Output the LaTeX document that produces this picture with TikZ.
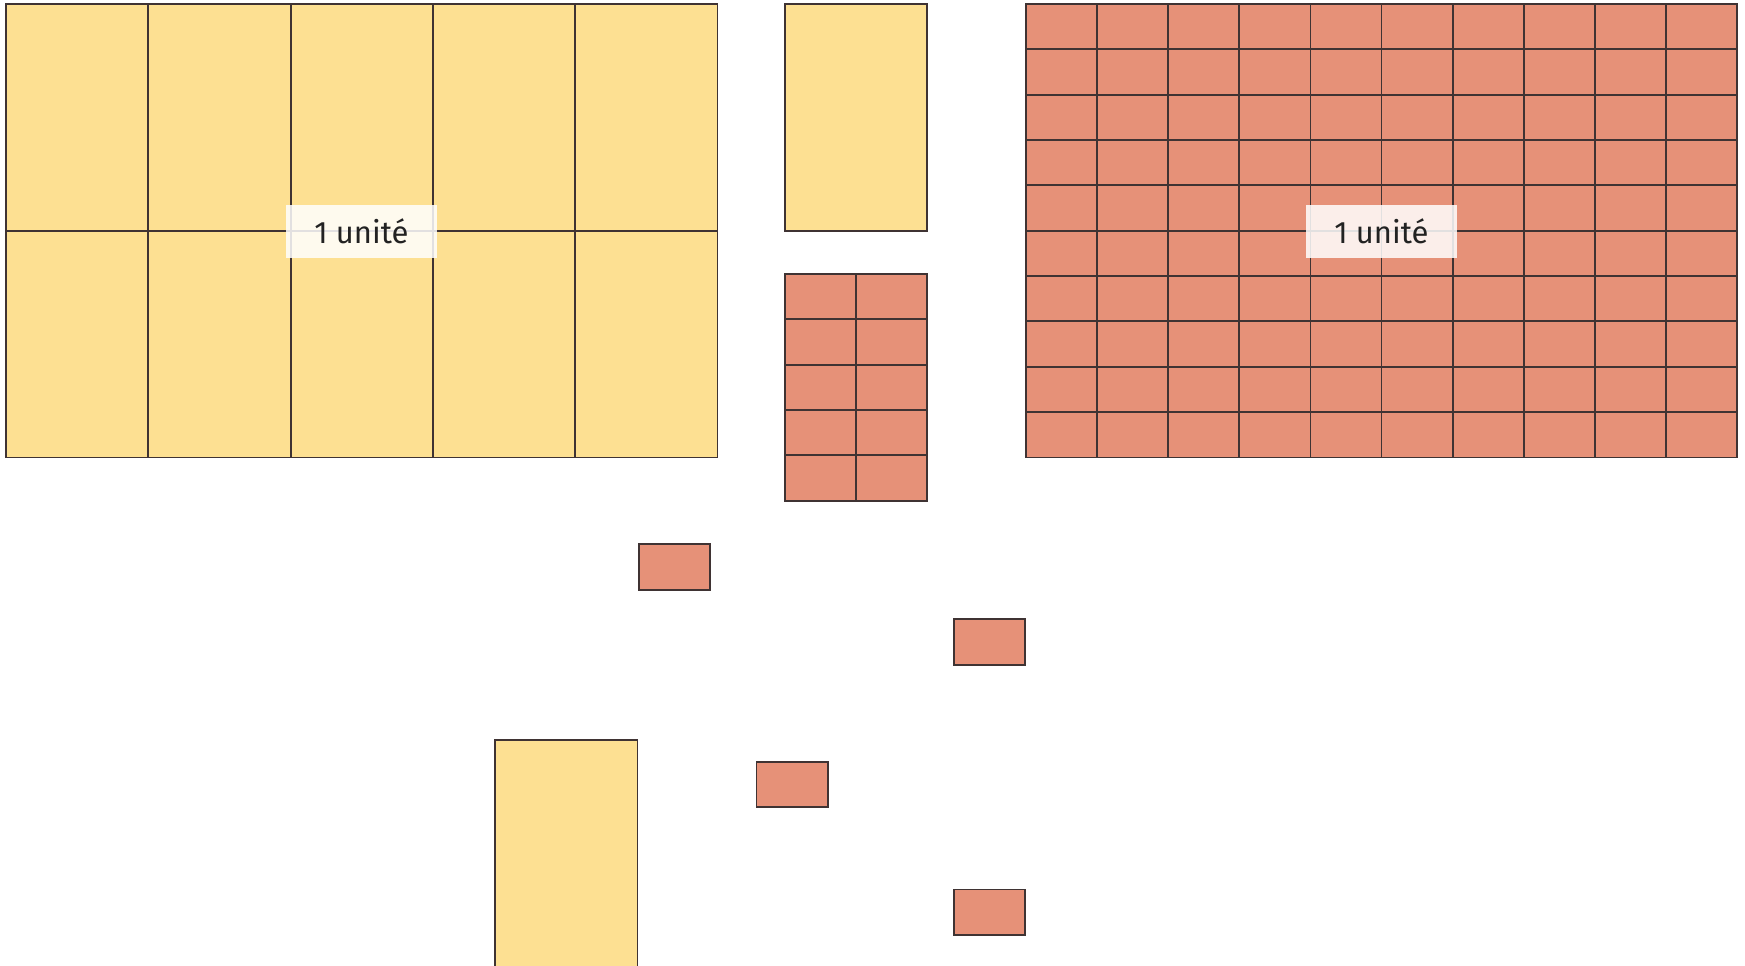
\documentclass[tikz,border=0pt]{standalone}
\usepackage{fontspec}
\setmainfont{Fira Sans}
\definecolor{yelfill}{HTML}{FDE092}
\definecolor{redfill}{HTML}{E69178}
\definecolor{edgecol}{HTML}{3F3333}
\definecolor{txtcol}{HTML}{222222}
\begin{document}
\begin{tikzpicture}[x=1pt,y=-1pt,
  ycell/.style={fill=yelfill,draw=edgecol,line width=1.8pt},
  rcell/.style={fill=redfill,draw=edgecol,line width=1.8pt},
  unitlabel/.style={fill=white,fill opacity=0.85,text opacity=1,text=txtcol,
    minimum width=150.7pt,minimum height=52.7pt,inner sep=0pt,
    font=\fontsize{31}{36}\selectfont}]
\useasboundingbox (0,0) rectangle (1745,966);
% big yellow block 5 x 2
\foreach \i in {0,...,4}
  \foreach \j in {0,1}
    \draw[ycell] ({6+\i*142.3},{4+\j*226.7}) rectangle +(142.3,226.7);
% big red block 10 x 10
\foreach \i in {0,...,9}
  \foreach \j in {0,...,9}
    \draw[rcell] ({1026+\i*71.1},{4+\j*45.34}) rectangle +(71.1,45.34);
% middle yellow
\draw[ycell] (785,4) rectangle +(142.3,226.7);
% middle red 2 x 5
\foreach \i in {0,1}
  \foreach \j in {0,...,4}
    \draw[rcell] ({785+\i*71.15},{274+\j*45.34}) rectangle +(71.15,45.34);
% loose small tiles
\draw[rcell] (638.7,544.3) rectangle +(71.4,45.34);
\draw[rcell] (953.7,619.3) rectangle +(71.4,45.34);
\draw[rcell] (756.5,762.0) rectangle +(71.4,45.34);
\draw[rcell] (953.7,889.5) rectangle +(71.4,45.34);
% bottom yellow
\draw[ycell] (495.2,740) rectangle +(142.3,226.7);
% labels
\node[unitlabel] (ylabel) at (361.4,231.3) {1 unité};
\node[unitlabel] (rlabel) at (1381.4,231.3) {1 unité};
\end{tikzpicture}
\end{document}
